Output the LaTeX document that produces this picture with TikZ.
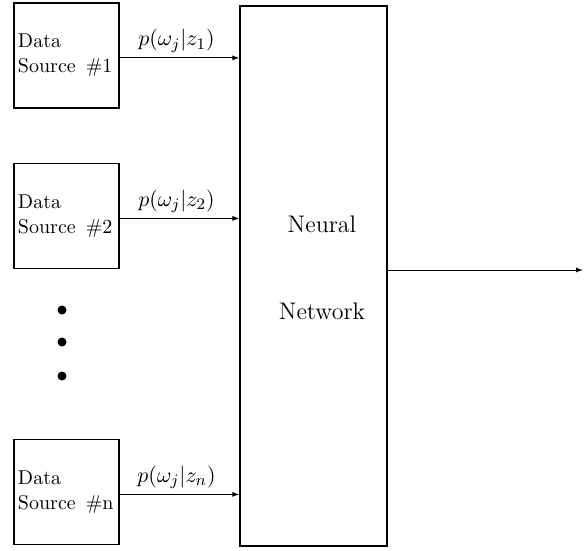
\documentclass[tikz,border=0pt]{standalone}
\usetikzlibrary{arrows.meta,calc}
\begin{document}
\begin{tikzpicture}[x=0.5pt,y=-0.5pt,
  srcbox/.style={draw,line width=0.6pt,minimum width=52.5pt,minimum height=52.5pt,
    text width=48.5pt,align=left,inner xsep=2pt,inner ysep=0pt,
    font=\fontsize{10}{12.5}\selectfont},
  nnbox/.style={draw,line width=0.6pt,minimum width=73.5pt,minimum height=270pt,inner sep=0pt},
  nntext/.style={font=\large,inner sep=0pt,anchor=base},
  conn/.style={line width=0.45pt,-{Latex[length=3.5pt,width=2.5pt]}},
  plabel/.style={font=\fontsize{11}{13}\selectfont,inner sep=0pt,anchor=base},
  dotmark/.style={circle,fill,inner sep=0pt,minimum size=4.5pt}]
\useasboundingbox (0,0) rectangle (584,551);

% data sources
\node[srcbox] (s1) at (66.5,55.5) {Data\\Source\hspace{5pt}\#1};
\node[srcbox] (s2) at (66.5,216) {Data\\Source\hspace{5pt}\#2};
\node[srcbox] (s3) at (66.5,492) {Data\\Source\hspace{5pt}\#n};

% neural network
\node[nnbox] (nn) at (313.5,276) {};
\node[nntext] (nn1) at (322,233) {Neural};
\node[nntext] (nn2) at (322,319) {Network};

% dots
\node[dotmark] (d1) at (62,310) {};
\node[dotmark] (d2) at (62,342) {};
\node[dotmark] (d3) at (62,376) {};

% input connectors
\coordinate (a1) at ([yshift=-1.2pt]s1.east);
\coordinate (a2) at ([yshift=-1.2pt]s2.east);
\coordinate (a3) at ([yshift=-1.2pt]s3.east);
\draw[conn] (a1) -- (a1 -| nn.west) node[plabel,midway,yshift=6pt,xshift=-1.5pt] (l1) {$p(\omega_j|z_1)$};
\draw[conn] (a2) -- (a2 -| nn.west) node[plabel,midway,yshift=6pt,xshift=-1.5pt] (l2) {$p(\omega_j|z_2)$};
\draw[conn] (a3) -- (a3 -| nn.west) node[plabel,midway,yshift=6pt,xshift=-1.5pt] (l3) {$p(\omega_j|z_n)$};

% output
\coordinate (out) at (583,270);
\draw[conn] (nn.east |- out) -- (out);
\end{tikzpicture}
\end{document}
